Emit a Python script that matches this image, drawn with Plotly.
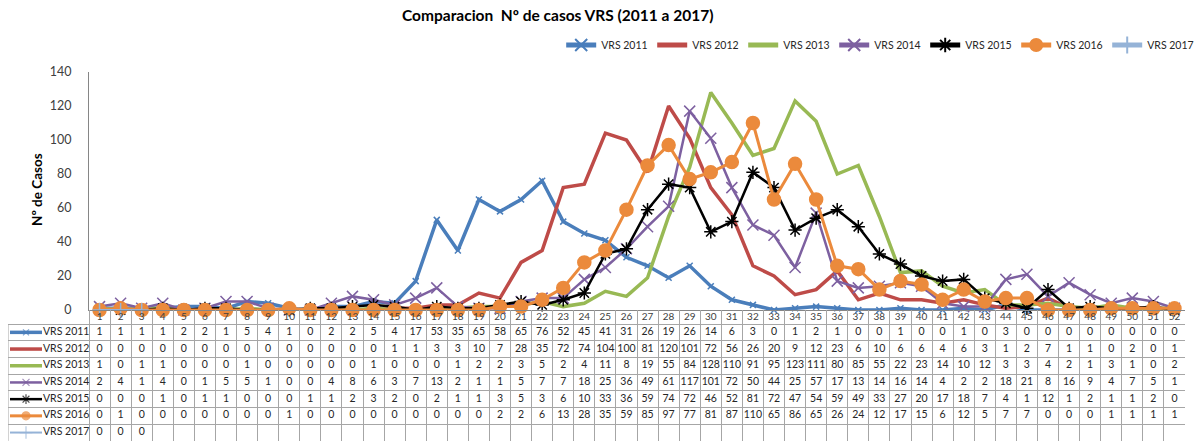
import plotly.graph_objects as go

weeks = list(range(1, 53))
series_names = ["VRS 2011", "VRS 2012", "VRS 2013", "VRS 2014", "VRS 2015", "VRS 2016", "VRS 2017"]

vrs_2011 = [1, 1, 1, 1, 2, 2, 1, 5, 4, 1, 0, 2, 2, 5, 4, 17, 53, 35, 65, 58,
            65, 76, 52, 45, 41, 31, 26, 19, 26, 14, 6, 3, 0, 1, 2, 1, 0, 0, 1, 0,
            0, 1, 0, 3, 0, 0, 0, 0, 0, 0, 0, 0]
vrs_2012 = [0, 0, 0, 0, 0, 0, 0, 0, 0, 0, 0, 0, 0, 0, 1, 1, 3, 3, 10, 7,
            28, 35, 72, 74, 104, 100, 81, 120, 101, 72, 56, 26, 20, 9, 12, 23, 6, 10, 6, 6,
            4, 6, 3, 1, 2, 7, 1, 1, 0, 2, 0, 1]
vrs_2013 = [1, 0, 1, 1, 0, 0, 0, 1, 0, 0, 0, 0, 0, 1, 0, 0, 0, 1, 2, 2,
            3, 5, 2, 4, 11, 8, 19, 55, 84, 128, 110, 91, 95, 123, 111, 80, 85, 55, 22, 23,
            14, 10, 12, 3, 3, 4, 2, 1, 3, 1, 0, 2]
vrs_2014 = [2, 4, 1, 4, 0, 1, 5, 5, 1, 0, 0, 4, 8, 6, 3, 7, 13, 2, 1, 1,
            5, 7, 7, 18, 25, 36, 49, 61, 117, 101, 72, 50, 44, 25, 57, 17, 13, 14, 16, 14,
            4, 2, 2, 18, 21, 8, 16, 9, 4, 7, 5, 1]
vrs_2015 = [0, 0, 0, 1, 0, 1, 1, 0, 0, 0, 1, 1, 2, 3, 2, 0, 2, 1, 1, 3,
            5, 3, 6, 10, 33, 36, 59, 74, 72, 46, 52, 81, 72, 47, 54, 59, 49, 33, 27, 20,
            17, 18, 7, 4, 1, 12, 1, 2, 1, 1, 2, 0]
vrs_2016 = [0, 1, 0, 0, 0, 0, 0, 0, 0, 1, 0, 0, 0, 0, 0, 0, 0, 0, 0, 2,
            2, 6, 13, 28, 35, 59, 85, 97, 77, 81, 87, 110, 65, 86, 65, 26, 24, 12, 17, 15,
            6, 12, 5, 7, 7, 0, 0, 0, 1, 1, 1, 1]
vrs_2017 = [0, 0, 0]

all_values = [vrs_2011, vrs_2012, vrs_2013, vrs_2014, vrs_2015, vrs_2016, vrs_2017]
y_ticks = [0, 20, 40, 60, 80, 100, 120, 140]

colors = ["#4A7EBB", "#BE4B48", "#98B954", "#7D60A0", "#000000", "#EB8A3C", "#95B3D7"]
line_w = [3.5, 3.5, 3.5, 2.5, 2.5, 3, 2]
symbols = ["x-thin-open", None, None, "x-thin-open", "asterisk-open", "circle", "cross-thin-open"]
msize = [6, 0, 0, 11, 11, 13, 10]
key_msize = [6, 0, 0, 7, 8, 8, 9]

FONT = "Lato"
W, H = 1200, 443
R_MARGIN = 15
PW = W - R_MARGIN
TBL_L, AX_X, RIGHT = 8, 89, 1185
Y0, Y140 = 310, 72
TBL_TOP, ROW_H = 324, 16.7
TBL_BOT = TBL_TOP + 7 * ROW_H
HDR = (TBL_TOP - Y0) / ROW_H

ppu = (RIGHT - AX_X) / 52.0
x2_start = 0.5 - (AX_X - TBL_L) / ppu


def px_to_x2(px):
    return 0.5 + (px - AX_X) / ppu


fig = go.Figure()

# main series
for i, (name, vals) in enumerate(zip(series_names, all_values)):
    mk = dict(size=msize[i], color=colors[i])
    if symbols[i] is None:
        mode = "lines"
    else:
        mode = "lines+markers"
        mk["symbol"] = symbols[i]
        mk["line"] = dict(color=colors[i], width=1.5)
    fig.add_trace(go.Scatter(
        x=weeks[:len(vals)], y=vals, name=name, mode=mode,
        line=dict(color=colors[i], width=line_w[i]),
        marker=mk, cliponaxis=False, xaxis="x", yaxis="y"))

# table header (week numbers)
fig.add_trace(go.Scatter(
    x=weeks, y=[-HDR / 2] * len(weeks), text=[str(w) for w in weeks], mode="text",
    textfont=dict(family=FONT, size=10, color="#404040"),
    showlegend=False, hoverinfo="skip", xaxis="x2", yaxis="y2"))

# table rows
kx0, kx1 = px_to_x2(10), px_to_x2(42)
kmid = (kx0 + kx1) / 2
lbl_x = px_to_x2(43)
for r, (name, vals) in enumerate(zip(series_names, all_values)):
    yc = r + 0.5
    fig.add_trace(go.Scatter(
        x=weeks[:len(vals)], y=[yc] * len(vals), text=[str(v) for v in vals], mode="text",
        textfont=dict(family=FONT, size=10.5, color="#262626"),
        showlegend=False, hoverinfo="skip", xaxis="x2", yaxis="y2"))
    # row label
    fig.add_trace(go.Scatter(
        x=[lbl_x], y=[yc], text=[name], mode="text", textposition="middle right",
        textfont=dict(family=FONT, size=10.5, color="#262626"),
        showlegend=False, hoverinfo="skip", xaxis="x2", yaxis="y2"))
    # key glyph
    kmk = dict(size=[0, key_msize[r], 0], color=colors[r])
    if symbols[r] is not None:
        kmk["symbol"] = symbols[r]
        kmk["line"] = dict(color=colors[r], width=1.2)
    fig.add_trace(go.Scatter(
        x=[kx0, kmid, kx1], y=[yc] * 3, mode="lines+markers" if symbols[r] else "lines",
        line=dict(color=colors[r], width=line_w[r]), marker=kmk,
        showlegend=False, hoverinfo="skip", cliponaxis=False, xaxis="x2", yaxis="y2"))

# left border of table
fig.add_shape(type="line", xref="x2", yref="y2", x0=x2_start, x1=x2_start, y0=0, y1=7,
              line=dict(color="#A6A6A6", width=1))

grid_c = "#A6A6A6"
fig.update_layout(
    width=W, height=H,
    margin=dict(l=0, r=R_MARGIN, t=0, b=0, autoexpand=False),
    paper_bgcolor="white", plot_bgcolor="rgba(0,0,0,0)",
    font=dict(family=FONT, color="#404040"),
    showlegend=True,
    legend=dict(orientation="h", xref="container", x=0.9985, xanchor="right",
                yref="container", y=1 - 45 / H, yanchor="middle",
                font=dict(family=FONT, size=10.5, color="#262626"),
                itemwidth=30, itemsizing="constant", entrywidth=46, tracegroupgap=0,
                bgcolor="rgba(0,0,0,0)"),
    xaxis=dict(domain=[AX_X / PW, 1], range=[0.5, 52.5], showticklabels=False, ticks="",
               showgrid=False, zeroline=False, showline=True, linecolor="#868686",
               linewidth=1, anchor="y", fixedrange=True),
    yaxis=dict(domain=[1 - Y0 / H, 1 - Y140 / H], range=[0, 140], tickvals=y_ticks,
               showgrid=False, zeroline=False, showline=True, linecolor="#868686",
               linewidth=1, ticks="", ticklabelstandoff=14,
               tickfont=dict(family=FONT, size=12.5, color="#404040"), anchor="x",
               fixedrange=True),
    xaxis2=dict(domain=[TBL_L / PW, 1], range=[x2_start, 52.5],
                tickvals=[w + 0.5 for w in range(0, 53)], showticklabels=False, ticks="",
                showgrid=True, gridcolor=grid_c, gridwidth=1, zeroline=False,
                showline=False, anchor="y2", fixedrange=True),
    yaxis2=dict(domain=[1 - TBL_BOT / H, 1 - Y0 / H], range=[7, -HDR],
                tickvals=list(range(0, 8)), showticklabels=False, ticks="",
                showgrid=True, gridcolor=grid_c, gridwidth=1, zeroline=False,
                showline=False, anchor="x2", fixedrange=True),
    annotations=[
        dict(text="<b>Comparacion\u00a0\u00a0Nº de casos VRS (2011 a 2017)</b>",
             xref="paper", yref="paper", x=557 / PW, y=1 - 15 / H,
             xanchor="center", yanchor="middle", showarrow=False,
             font=dict(family=FONT, size=15.5, color="#000000")),
        dict(text="<b>Nº de Casos</b>", textangle=-90,
             xref="paper", yref="paper", x=37 / PW, y=1 - 190 / H,
             xanchor="center", yanchor="middle", showarrow=False,
             font=dict(family=FONT, size=13.5, color="#000000")),
    ],
)

fig.write_html("out.html", config={"displayModeBar": False},
               post_script="document.body.style.margin='0';document.body.style.overflow='hidden';")
